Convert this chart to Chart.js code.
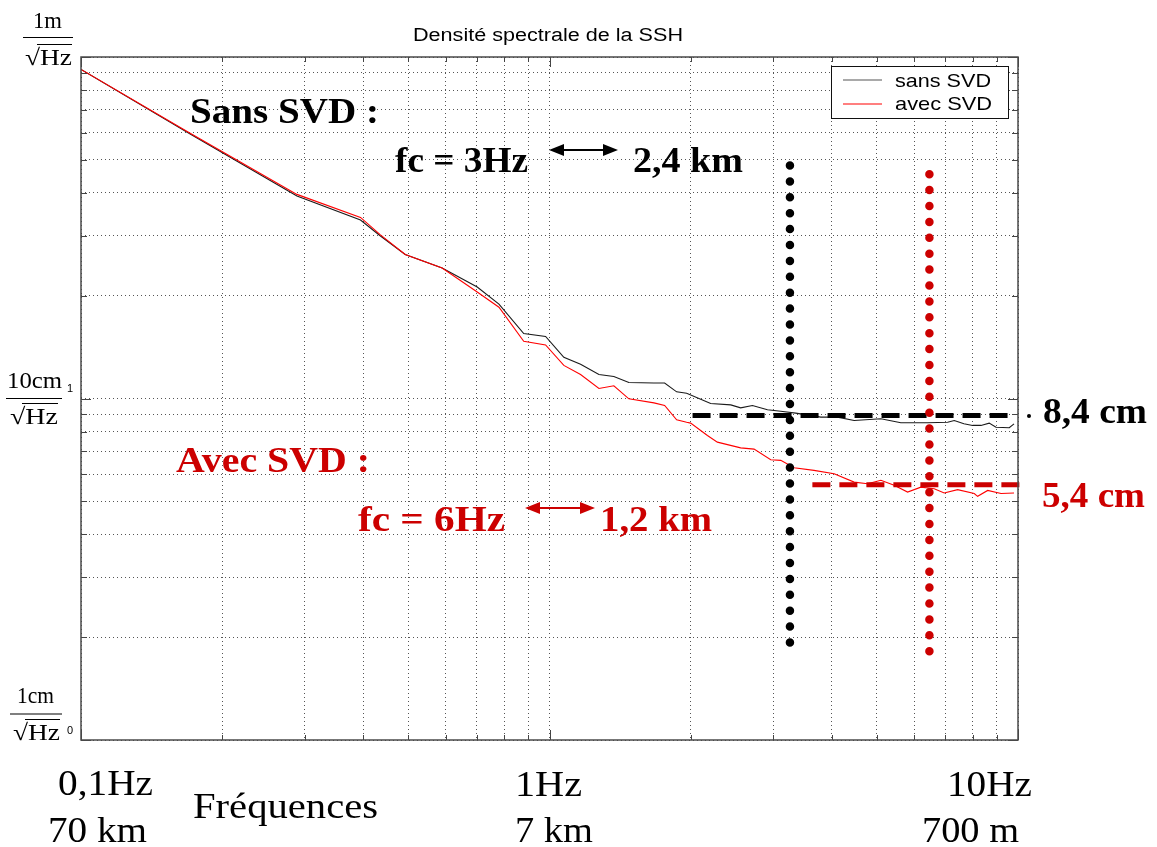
<!DOCTYPE html>
<html lang="fr">
<head>
  <meta charset="UTF-8">
  <title>Densité spectrale de la SSH</title>
  <script src="https://cdn.jsdelivr.net/npm/chart.js@4.4.1/dist/chart.umd.min.js"></script>
  <style>
    * { margin: 0; padding: 0; }
    body { background: #fff; }
    .chart { position: relative; width: 1157px; height: 847px; }
  </style>
</head>
<body>
  <div class="chart"><canvas id="dsp"></canvas></div>

  <script>
    // fréquences en Hz, densité spectrale en cm/sqrt(Hz)
    const sansFreq = [0.1, 0.171, 0.289, 0.395, 0.435, 0.492, 0.590, 0.701, 0.780, 0.881, 0.981, 1.073, 1.165, 1.275,
      1.372, 1.477, 1.671, 1.761, 1.868, 1.962, 2.208, 2.437, 2.559, 2.711, 2.919, 3.116, 3.354, 3.794, 4.119, 4.469,
      5.097, 5.623, 6.412, 7.077, 7.31, 7.665, 8.0, 8.336, 8.68, 8.974, 9.58, 9.806];
    const sansDsp = [92.0, 59.5, 39.2, 33.3, 29.97, 26.4, 24.1, 21.2, 18.9, 15.5, 15.2, 13.2, 12.6, 11.75,
      11.6, 11.14, 11.1, 11.1, 10.46, 10.36, 9.67, 9.58, 9.39, 9.54, 9.27, 9.18, 9.06, 8.82, 8.82, 8.62,
      8.72, 8.49, 8.49, 8.52, 8.62, 8.43, 8.34, 8.34, 8.47, 8.24, 8.21, 8.43];

    const avecFreq = [0.1, 0.171, 0.289, 0.395, 0.435, 0.492, 0.590, 0.701, 0.780, 0.881, 0.981, 1.073, 1.165, 1.275,
      1.372, 1.477, 1.671, 1.761, 1.868, 1.962, 2.001, 2.173, 2.282, 2.559, 2.733, 2.966, 3.116, 3.327, 3.669, 4.051,
      4.469, 4.773, 5.097, 5.441, 5.812, 6.204, 6.625, 6.958, 7.433, 8.064, 8.201, 8.616, 9.199, 9.806];
    const avecDsp = [92.0, 59.8, 39.6, 33.9, 30.2, 26.4, 24.1, 20.5, 18.5, 14.7, 14.35, 12.5, 11.75, 10.7,
      10.9, 9.98, 9.71, 9.54, 8.66, 8.52, 8.47, 7.79, 7.45, 7.17, 7.11, 6.62, 6.59, 6.27, 6.16, 6.02,
      5.69, 5.63, 5.76, 5.57, 5.32, 5.50, 5.44, 5.29, 5.41, 5.27, 5.17, 5.38, 5.27, 5.29];

    // fréquences de coupure et paliers
    const coupureSansFreq = [3.26, 3.26];
    const coupureSansDsp = [1.93, 49.3];
    const coupureAvecFreq = [6.47, 6.47];
    const coupureAvecDsp = [1.82, 46.6];
    const palierSansFreq = [2.02, 9.9];
    const palierSansDsp = [8.92, 8.92];
    const palierAvecFreq = [3.64, 10.5];
    const palierAvecDsp = [5.59, 5.59];

    const xTicks = [0.1, 0.2, 0.3, 0.4, 0.5, 0.6, 0.7, 0.8, 0.9, 1, 2, 3, 4, 5, 6, 7, 8, 9, 10];
    const yTicks = [1, 2, 3, 4, 5, 6, 7, 8, 9, 10, 20, 30, 40, 50, 60, 70, 80, 90, 100];
    const xLabels = ['0,1Hz', '1Hz', '10Hz'];
    const xDistances = ['70 km', '7 km', '700 m'];
    const yNumerateurs = ['1m', '10cm', '1cm'];

    const ROUGE = '#cc0000';

    function points(xs, ys) {
      return xs.map((v, i) => ({ x: v, y: ys[i] }));
    }

    // texte étiré horizontalement pour tenir dans une largeur donnée
    function texte(ctx, str, x, y, font, color, width) {
      ctx.save();
      ctx.font = font;
      ctx.fillStyle = color;
      ctx.textAlign = 'left';
      ctx.textBaseline = 'alphabetic';
      const w = ctx.measureText(str).width;
      ctx.translate(x, y);
      if (width) ctx.scale(width / w, 1);
      ctx.fillText(str, 0, 0);
      ctx.restore();
    }

    function fleche(ctx, x1, x2, y, color) {
      ctx.save();
      ctx.strokeStyle = color;
      ctx.fillStyle = color;
      ctx.lineWidth = 2;
      ctx.beginPath();
      ctx.moveTo(x1 + 10, y);
      ctx.lineTo(x2 - 10, y);
      ctx.stroke();
      [[x1, 1], [x2, -1]].forEach(([x, s]) => {
        ctx.beginPath();
        ctx.moveTo(x, y);
        ctx.lineTo(x + 15 * s, y - 6);
        ctx.lineTo(x + 15 * s, y + 6);
        ctx.closePath();
        ctx.fill();
      });
      ctx.restore();
    }

    function fraction(ctx, num, numX, numW, numY, barY, barX1, barX2, denX, denW, denY) {
      const f = '23px "Liberation Serif"';
      texte(ctx, num, numX, numY, f, '#000', numW);
      ctx.save();
      ctx.strokeStyle = '#000';
      ctx.lineWidth = 1.2;
      ctx.beginPath();
      ctx.moveTo(barX1, barY);
      ctx.lineTo(barX2, barY);
      ctx.stroke();
      ctx.restore();
      texte(ctx, '\u221AHz', denX, denY, f, '#000', denW);
      ctx.save();
      ctx.lineWidth = 1;
      ctx.strokeStyle = '#000';
      ctx.beginPath();
      ctx.moveTo(denX + 12, denY - 20.5);
      ctx.lineTo(denX + denW, denY - 20.5);
      ctx.stroke();
      ctx.restore();
    }

    const habillage = {
      id: 'habillage',
      afterDraw(chart) {
        const { ctx, chartArea: a, scales: { x, y } } = chart;

        // cadre et graduations intérieures
        ctx.save();
        ctx.strokeStyle = '#444';
        ctx.lineWidth = 1;
        xTicks.forEach(v => {
          const px = Math.round(x.getPixelForValue(v)) + 0.5;
          const len = [0.1, 1, 10].includes(v) ? 10 : 5;
          ctx.beginPath();
          ctx.moveTo(px, a.bottom); ctx.lineTo(px, a.bottom - len);
          ctx.moveTo(px, a.top); ctx.lineTo(px, a.top + len);
          ctx.stroke();
        });
        yTicks.forEach(v => {
          const py = Math.round(y.getPixelForValue(v)) + 0.5;
          const len = [1, 10, 100].includes(v) ? 10 : 6;
          ctx.beginPath();
          ctx.moveTo(a.left, py); ctx.lineTo(a.left + len, py);
          ctx.moveTo(a.right, py); ctx.lineTo(a.right - len, py);
          ctx.stroke();
        });
        ctx.lineWidth = 1.5;
        ctx.strokeStyle = '#4a4a4a';
        ctx.strokeRect(a.left, a.top, a.right - a.left, a.bottom - a.top);
        ctx.restore();

        // titre
        texte(ctx, 'Densité spectrale de la SSH', 413, 41, '18px "Liberation Sans"', '#000', 270);

        // légende
        ctx.save();
        ctx.fillStyle = '#fff';
        ctx.fillRect(831, 66, 177, 52);
        ctx.strokeStyle = '#111';
        ctx.lineWidth = 1;
        ctx.strokeRect(831.5, 66.5, 177, 52);
        ctx.lineWidth = 1.2;
        ctx.strokeStyle = '#555';
        ctx.beginPath(); ctx.moveTo(843, 80); ctx.lineTo(882, 80); ctx.stroke();
        ctx.strokeStyle = '#ff0000';
        ctx.beginPath(); ctx.moveTo(843, 104); ctx.lineTo(882, 104); ctx.stroke();
        ctx.restore();
        texte(ctx, 'sans SVD', 895, 87, '19px "Liberation Sans"', '#000', 96);
        texte(ctx, 'avec SVD', 895, 110, '19px "Liberation Sans"', '#000', 97);

        // axe vertical : unités en fraction
        fraction(ctx, yNumerateurs[0], 33, 29, 28, 37.5, 23, 73, 25, 47, 65);
        fraction(ctx, yNumerateurs[1], 7, 55, 388, 398.5, 6, 62, 10, 48, 424);
        fraction(ctx, yNumerateurs[2], 17, 37, 703, 714, 10, 62, 13, 47, 740);
        texte(ctx, '1', 67, 392, '11px "Liberation Sans"', '#000');
        texte(ctx, '0', 67, 734, '11px "Liberation Sans"', '#000');

        // axe horizontal
        const serif = '35px "Liberation Serif"';
        texte(ctx, xLabels[0], 58, 795, serif, '#000', 95);
        texte(ctx, xDistances[0], 48, 842, serif, '#000', 99);
        texte(ctx, 'Fréquences', 193, 818, serif, '#000', 185);
        texte(ctx, xLabels[1], 515, 796, serif, '#000', 67);
        texte(ctx, xDistances[1], 515, 842, serif, '#000', 78);
        texte(ctx, xLabels[2], 947, 796, serif, '#000', 85);
        texte(ctx, xDistances[2], 922, 842, serif, '#000', 97);

        // annotations
        const gras = 'bold 36px "Liberation Serif"';
        texte(ctx, 'Sans SVD :', 190, 123, gras, '#000', 189);
        texte(ctx, 'fc = 3Hz', 395, 172, gras, '#000', 133);
        fleche(ctx, 549, 618, 150, '#000');
        texte(ctx, '2,4 km', 633, 172, gras, '#000', 110);

        texte(ctx, 'Avec SVD :', 176, 472, gras, ROUGE, 194);
        texte(ctx, 'fc = 6Hz', 358, 531, gras, ROUGE, 147);
        fleche(ctx, 525, 595, 508, ROUGE);
        texte(ctx, '1,2 km', 600, 531, gras, ROUGE, 112);

        ctx.save();
        ctx.fillStyle = '#000';
        ctx.beginPath(); ctx.arc(1029, 416, 2, 0, Math.PI * 2); ctx.fill();
        ctx.restore();
        texte(ctx, '8,4 cm', 1043, 423, gras, '#000', 104);
        texte(ctx, '5,4 cm', 1042, 507, gras, ROUGE, 103);
      }
    };

    const config = {
      type: 'line',
      data: {
        datasets: [
          {
            label: 'sans SVD',
            data: points(sansFreq, sansDsp),
            borderColor: '#1a1a1a',
            borderWidth: 1.1,
            pointRadius: 0,
            order: 4
          },
          {
            label: 'avec SVD',
            data: points(avecFreq, avecDsp),
            borderColor: '#ff0000',
            borderWidth: 1.1,
            pointRadius: 0,
            order: 3
          },
          {
            label: 'palier sans',
            data: points(palierSansFreq, palierSansDsp),
            borderColor: '#000',
            borderWidth: 5,
            borderDash: [18, 9],
            pointRadius: 0,
            order: 2
          },
          {
            label: 'palier avec',
            data: points(palierAvecFreq, palierAvecDsp),
            borderColor: ROUGE,
            borderWidth: 5,
            borderDash: [18, 9],
            pointRadius: 0,
            clip: false,
            order: 2
          },
          {
            label: 'fc sans',
            data: points(coupureSansFreq, coupureSansDsp),
            borderColor: '#000',
            borderWidth: 8.5,
            borderDash: [0, 15.9],
            borderCapStyle: 'round',
            pointRadius: 0,
            order: 1
          },
          {
            label: 'fc avec',
            data: points(coupureAvecFreq, coupureAvecDsp),
            borderColor: ROUGE,
            borderWidth: 8.5,
            borderDash: [0, 15.9],
            borderCapStyle: 'round',
            pointRadius: 0,
            order: 1
          }
        ]
      },
      options: {
        responsive: true,
        maintainAspectRatio: false,
        animation: false,
        layout: { padding: { left: 81, right: 139, top: 57, bottom: 107 } },
        plugins: {
          legend: { display: false },
          tooltip: { enabled: false },
          title: { display: false }
        },
        scales: {
          x: {
            type: 'logarithmic',
            min: 0.1,
            max: 10,
            afterBuildTicks: s => { s.ticks = xTicks.map(v => ({ value: v })); },
            ticks: { display: false },
            grid: { color: '#555', lineWidth: 1, drawTicks: false },
            border: { display: false, dash: [1, 3] }
          },
          y: {
            type: 'logarithmic',
            min: 1,
            max: 100,
            afterBuildTicks: s => { s.ticks = yTicks.map(v => ({ value: v })); },
            ticks: { display: false },
            grid: { color: '#555', lineWidth: 1, drawTicks: false },
            border: { display: false, dash: [1, 3] }
          }
        }
      },
      plugins: [habillage]
    };

    const graphe = new Chart(document.getElementById('dsp').getContext('2d'), config);
  </script>
</body>
</html>
